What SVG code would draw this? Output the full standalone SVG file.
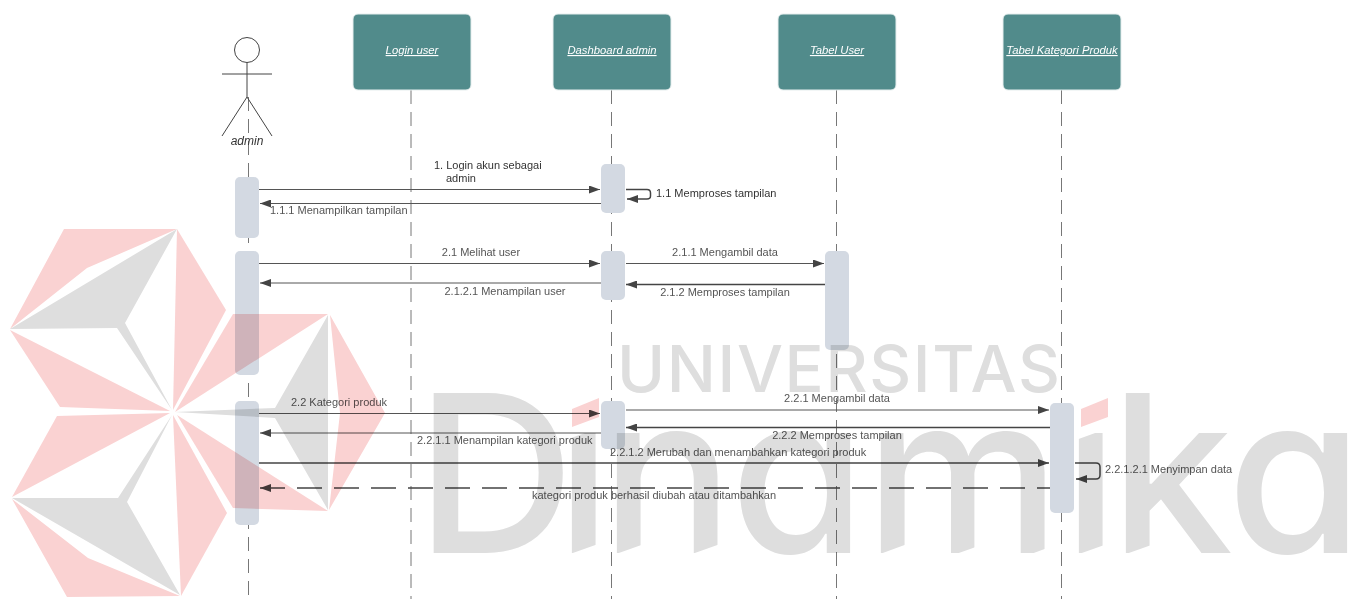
<svg xmlns="http://www.w3.org/2000/svg" width="1365" height="599" viewBox="0 0 1365 599">
<style>
.bg{fill:#fff}
.life{stroke:#777;stroke-width:1;stroke-dasharray:14 8;fill:none}
.node{fill:#518b8b;stroke:#e6eeee;stroke-width:1}
.nl{font:italic 11.300px "Liberation Sans",Arial,sans-serif;fill:#fff;text-anchor:middle;text-decoration:underline}
.act{fill:#d3d9e2}
.fig{fill:none;stroke:#444;stroke-width:1}
.msg{fill:none;stroke:#555;stroke-width:1}
.thick{stroke:#444;stroke-width:1.500}
.lb{font:11px "Liberation Sans",Arial,sans-serif;fill:#555}
.dk{fill:#333}
.c{text-anchor:middle}
.pink{fill:#fad2d2}
.gray{fill:#dedede}
.wm{mix-blend-mode:multiply}
.wt{font-family:Inter,"Liberation Sans",sans-serif;font-weight:540;fill:#dedede;font-feature-settings:"cv11"}
</style>
<defs>
<marker id="ah" markerUnits="userSpaceOnUse" markerWidth="12" markerHeight="8" refX="11" refY="4" orient="auto"><path d="M0 0L11 4L0 8Z" fill="#444"/></marker>
<clipPath id="dinclip"><path clip-rule="evenodd" d="M0 340H1365V599H0ZM560 340H610V424L560 442ZM1062 340H1120V424L1062 445ZM570 554L601 543V560H570ZM616 554L647 543V560H616ZM692 554L723 543V560H692ZM880 554L910 543V560H880ZM956 554L987 543V560H956ZM1031 554L1061 543V560H1031ZM1079 554L1110 543V560H1079ZM1126 554L1157 543V560H1126Z"/></clipPath>
</defs>
<rect class="bg" width="1365" height="599"/>
<g id="lifelines">
<path class="life" d="M248.500 97V599"/>
<path class="life" d="M411 90V599"/>
<path class="life" d="M611.500 90V599"/>
<path class="life" d="M836.500 90V599"/>
<path class="life" d="M1061.500 90V599"/>
</g>
<g id="actor-admin">
<circle class="fig" cx="247" cy="50" r="12.500"/>
<path class="fig" d="M247 62.500V97M222 74H272M222 136L247 97L272 136"/>
<text x="247" y="145" font-family="Liberation Sans,sans-serif" font-style="italic" font-size="12" fill="#333" text-anchor="middle">admin</text>
</g>
<g id="node-login"><rect class="node" x="353" y="14" width="118" height="76" rx="5"/><text class="nl" x="412" y="54">Login user</text></g>
<g id="node-dashboard"><rect class="node" x="553" y="14" width="118" height="76" rx="5"/><text class="nl" x="612" y="54">Dashboard admin</text></g>
<g id="node-user"><rect class="node" x="778" y="14" width="118" height="76" rx="5"/><text class="nl" x="837" y="54">Tabel User</text></g>
<g id="node-kategori"><rect class="node" x="1003" y="14" width="118" height="76" rx="5"/><text class="nl" x="1062" y="54">Tabel Kategori Produk</text></g>
<g id="activations">
<rect class="act" x="235" y="177" width="24" height="61" rx="5"/>
<rect class="act" x="235" y="251" width="24" height="124" rx="5"/>
<rect class="act" x="235" y="401" width="24" height="124" rx="5"/>
<rect class="act" x="601" y="164" width="24" height="49" rx="5"/>
<rect class="act" x="601" y="251" width="24" height="49" rx="5"/>
<rect class="act" x="601" y="401" width="24" height="48" rx="5"/>
<rect class="act" x="825" y="251" width="24" height="99" rx="5"/>
<rect class="act" x="1050" y="403" width="24" height="110" rx="5"/>
</g>
<g id="connectors">
<path class="msg" marker-end="url(#ah)" d="M259 189.500H600"/>
<path class="msg" marker-end="url(#ah)" d="M601 203.500H260"/>
<path class="msg thick" marker-end="url(#ah)" d="M626 189.500H647Q650.500 189.500 650.500 193V196Q650.500 199 647 199H627"/>
<path class="msg" marker-end="url(#ah)" d="M259 263.500H600"/>
<path class="msg" marker-end="url(#ah)" d="M626 263.500H824"/>
<path class="msg thick" marker-end="url(#ah)" d="M825 284.500H626"/>
<path class="msg" marker-end="url(#ah)" d="M601 283H260"/>
<path class="msg" marker-end="url(#ah)" d="M259 413.500H600"/>
<path class="msg" marker-end="url(#ah)" d="M626 410H1049"/>
<path class="msg thick" marker-end="url(#ah)" d="M1050 427.500H626"/>
<path class="msg" marker-end="url(#ah)" d="M601 433H260"/>
<path class="msg thick" marker-end="url(#ah)" d="M259 463H1049"/>
<path class="msg thick" marker-end="url(#ah)" stroke-dasharray="25 12" stroke-dashoffset="12" d="M1050 488H260"/>
<path class="msg thick" marker-end="url(#ah)" d="M1075 463H1096Q1100 463 1100 467V475Q1100 479 1096 479H1076"/>
</g>
<g id="labels">
<text class="lb dk" x="434" y="169">1. Login akun sebagai</text>
<text class="lb dk" x="446" y="182">admin</text>
<text class="lb" x="270" y="214">1.1.1 Menampilkan tampilan</text>
<text class="lb dk" x="656" y="197">1.1 Memproses tampilan</text>
<text class="lb c" x="481" y="256">2.1 Melihat user</text>
<text class="lb c" x="725" y="256">2.1.1 Mengambil data</text>
<text class="lb c" x="725" y="296">2.1.2 Memproses tampilan</text>
<text class="lb c" x="505" y="295">2.1.2.1 Menampilan user</text>
<text class="lb" x="291" y="406">2.2 Kategori produk</text>
<text class="lb c" x="837" y="402">2.2.1 Mengambil data</text>
<text class="lb c" x="837" y="439">2.2.2 Memproses tampilan</text>
<text class="lb" x="417" y="444">2.2.1.1 Menampilan kategori produk</text>
<text class="lb" x="610" y="456">2.2.1.2 Merubah dan menambahkan kategori produk</text>
<text class="lb" x="532" y="499">kategori produk berhasil diubah atau ditambahkan</text>
<text class="lb" x="1105" y="473">2.2.1.2.1 Menyimpan data</text>
</g>
<g id="watermark" class="wm">
<polygon class="pink" points="64,229 177,229 87,268 10,329"/>
<polygon class="gray" points="10,329 177,229 125,323 172,410 117,328"/>
<polygon class="pink" points="177,229 226,310 173,410"/>
<polygon class="pink" points="10,330 170,411 60,407"/>
<polygon class="pink" points="233,314 328,314 175,412"/>
<polygon class="gray" points="328,315 275,408 175,412 275,418 328,510"/>
<polygon class="pink" points="330,315 385,413 329,510 340,413"/>
<polygon class="pink" points="177,415 328,511 233,508"/>
<polygon class="pink" points="57,416 170,413 12,497"/>
<polygon class="gray" points="12,498 118,498 172,415 127,502 180,595"/>
<polygon class="pink" points="12,499 88,558 180,596 67,597"/>
<polygon class="pink" points="173,415 227,513 181,596"/>
<polygon class="pink" points="572,409 599,398 599,417 572,427"/>
<polygon class="pink" points="1081,409 1108,398 1108,417 1081,427"/>
<text class="wt" x="617" y="392" font-size="65" textLength="443" lengthAdjust="spacing">UNIVERSITAS</text>
<text class="wt" font-size="220" y="553" x="416 556 601 730 865 1063 1110 1227" clip-path="url(#dinclip)">Dinamika</text>
</g>
</svg>
